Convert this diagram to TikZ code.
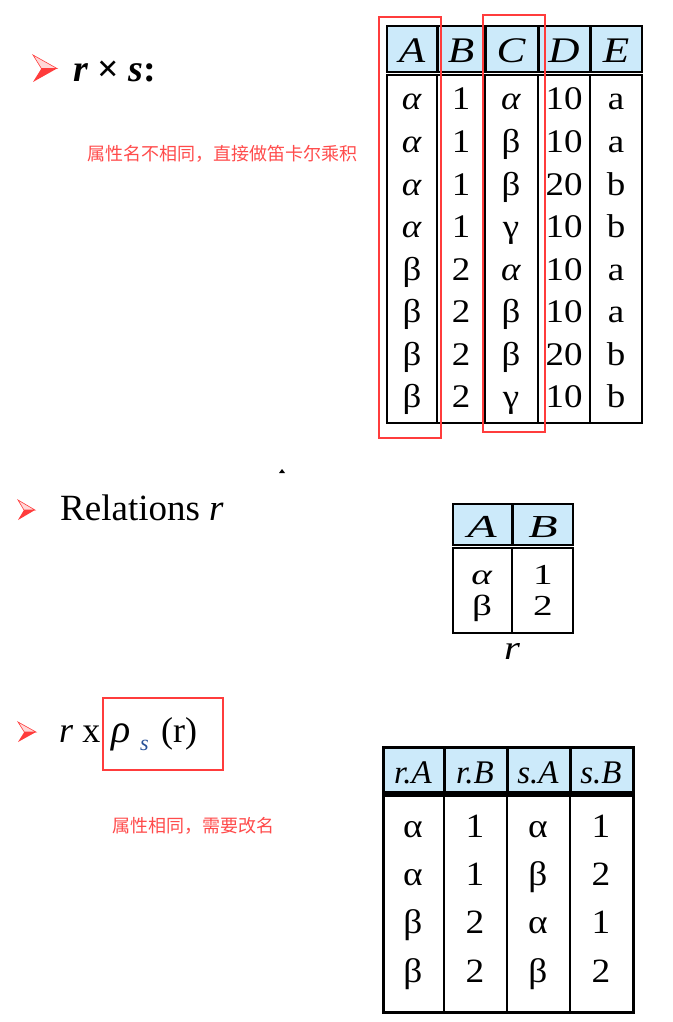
\documentclass[tikz,border=0pt]{standalone}
\usepackage{graphicx}
\usepackage{fontspec}
\setmainfont{Liberation Serif}
\newfontfamily\cjk{Noto Sans CJK SC}
\newcommand{\slalpha}{\textit{α}}
\newcommand{\widen}[2]{\scalebox{#1}[1]{#2}}
\definecolor{headblue}{RGB}{204,234,250}
\definecolor{markred}{RGB}{255,60,60}
\definecolor{notered}{RGB}{255,75,75}
\definecolor{subblue}{RGB}{40,80,150}
\begin{document}
\begin{tikzpicture}[x=1pt, y=-1pt,
    head/.style={font=\fontsize{36}{36}\selectfont\itshape, anchor=base, inner sep=0pt},
    cell/.style={font=\fontsize{33}{33}\selectfont, anchor=base, inner sep=0pt},
    note/.style={font=\cjk\fontsize{18}{18}\selectfont, text=notered, anchor=west, inner sep=0pt},
    title/.style={font=\fontsize{36}{36}\selectfont, anchor=base west, inner sep=0pt},
    hilite/.style={draw=markred, line width=1.8pt},
    outer/.style={line width=2.6pt}]
    \useasboundingbox (0,0) rectangle (672,1022);

    % Red pointers
    \foreach \px/\py/\w/\h in {33/55/24/27, 18/500/17/20, 18/722/18/20} {
        \fill[markred!20, draw=markred, line width=0.6pt] (\px,\py) -- (\px+\w,\py+\h/2) -- (\px+0.35*\w,\py+\h/2) -- cycle;
        \fill[markred] (\px+0.35*\w,\py+\h/2) -- (\px+\w,\py+\h/2) -- (\px,\py+\h) -- cycle;
    }

    % Headings and notes
    \node[title, font=\fontsize{38}{38}\selectfont\bfseries] (prod) at (73,82) {\textit{r} × \textit{s}:};
    \node[note] (note1) at (87,154) {属性名不相同，直接做笛卡尔乘积};
    \node[title, font=\fontsize{37}{37}\selectfont] (rel) at (60,520) {Relations \textit{r}};
    \node[title] (rx) at (59,742) {\textit{r} x};
    \node[title, font=\fontsize{40}{40}\selectfont] (rho) at (111,742) {\textit{ρ}};
    \node[title, font=\fontsize{22}{22}\selectfont\itshape, text=subblue] (sub) at (140,750) {s};
    \node[title] (arg) at (161,742) {(r)};
    \node[note] (note2) at (112,826) {属性相同，需要改名};
    \fill (279,473) -- (282,469) -- (285,473) -- cycle;

    % Table r x s
    \fill[headblue] (387,26) rectangle (642,72);
    \draw[outer] (387,26) rectangle (642,72);
    \foreach \x in {437,485,538,590} \draw[line width=3pt] (\x,26) -- (\x,72);
    \draw[outer] (387,75) rectangle (642,423);
    \foreach \x in {437,485,538,590} \draw[line width=1.6pt] (\x,75) -- (\x,423);
    \foreach \c/\x in {A/412, B/461, C/511, D/564, E/616}
        \node[head] (h\c) at (\x,63) {\widen{1.2}{\c}};
    \foreach \a/\b/\c/\d/\e [count=\i] in {\slalpha/1/\slalpha/10/a, \slalpha/1/β/10/a,
        \slalpha/1/β/20/b, \slalpha/1/γ/10/b, β/2/\slalpha/10/a, β/2/β/10/a, β/2/β/20/b, β/2/γ/10/b} {
        \pgfmathsetmacro{\y}{110+42.57*(\i-1)}
        \node[cell] (tA\i) at (412,\y) {\widen{1.12}{\a}};
        \node[cell] (tB\i) at (461,\y) {\widen{1.12}{\b}};
        \node[cell] (tC\i) at (511,\y) {\widen{1.12}{\c}};
        \node[cell] (tD\i) at (564,\y) {\widen{1.12}{\d}};
        \node[cell] (tE\i) at (616,\y) {\widen{1.12}{\e}};
    }
    \draw[hilite] (379,17) rectangle (441,438);
    \draw[hilite] (483,15) rectangle (545,432);

    % Relation r
    \fill[headblue] (453,504) rectangle (573,545);
    \draw[outer] (453,504) rectangle (573,545);
    \draw[line width=3pt] (512,504) -- (512,545);
    \draw[outer] (453,548) rectangle (573,633);
    \draw[line width=1.6pt] (512,548) -- (512,633);
    \node[head, font=\fontsize{32}{32}\selectfont\itshape] (rA) at (482,537) {\widen{1.5}{A}};
    \node[head, font=\fontsize{32}{32}\selectfont\itshape] (rB) at (543,537) {\widen{1.5}{B}};
    \foreach \a/\b/\y [count=\i] in {\slalpha/1/584, β/2/615} {
        \node[cell, font=\fontsize{29}{29}\selectfont] (rA\i) at (482,\y) {\widen{1.35}{\a}};
        \node[cell, font=\fontsize{29}{29}\selectfont] (rB\i) at (543,\y) {\widen{1.35}{\b}};
    }
    \node[head, font=\fontsize{34}{34}\selectfont\itshape] (rname) at (512,659) {\widen{1.2}{r}};

    % Table r x rho_s(r)
    \draw[hilite] (103,698) rectangle (223,770);
    \fill[headblue] (383,747) rectangle (633,792);
    \draw[line width=3pt] (383,747) rectangle (633,792);
    \foreach \x in {444,507,570} \draw[line width=3pt] (\x,747) -- (\x,792);
    \draw[line width=3pt] (383,795) rectangle (633,1012);
    \foreach \x in {444,507,570} \draw[line width=2pt] (\x,795) -- (\x,1012);
    \foreach \c/\x in {r.A/413, r.B/475, s.A/538, s.B/601}
        \node[head, font=\fontsize{33}{33}\selectfont\itshape] (h\c) at (\x,783) {\c};
    \foreach \a/\b/\c/\d/\y [count=\i] in {α/1/α/1/837, α/1/β/2/885, β/2/α/1/933, β/2/β/2/982} {
        \node[cell, font=\fontsize{34}{34}\selectfont] (pA\i) at (413,\y) {\widen{1.1}{\a}};
        \node[cell, font=\fontsize{34}{34}\selectfont] (pB\i) at (475,\y) {\widen{1.1}{\b}};
        \node[cell, font=\fontsize{34}{34}\selectfont] (pC\i) at (538,\y) {\widen{1.1}{\c}};
        \node[cell, font=\fontsize{34}{34}\selectfont] (pD\i) at (601,\y) {\widen{1.1}{\d}};
    }
\end{tikzpicture}
\end{document}
